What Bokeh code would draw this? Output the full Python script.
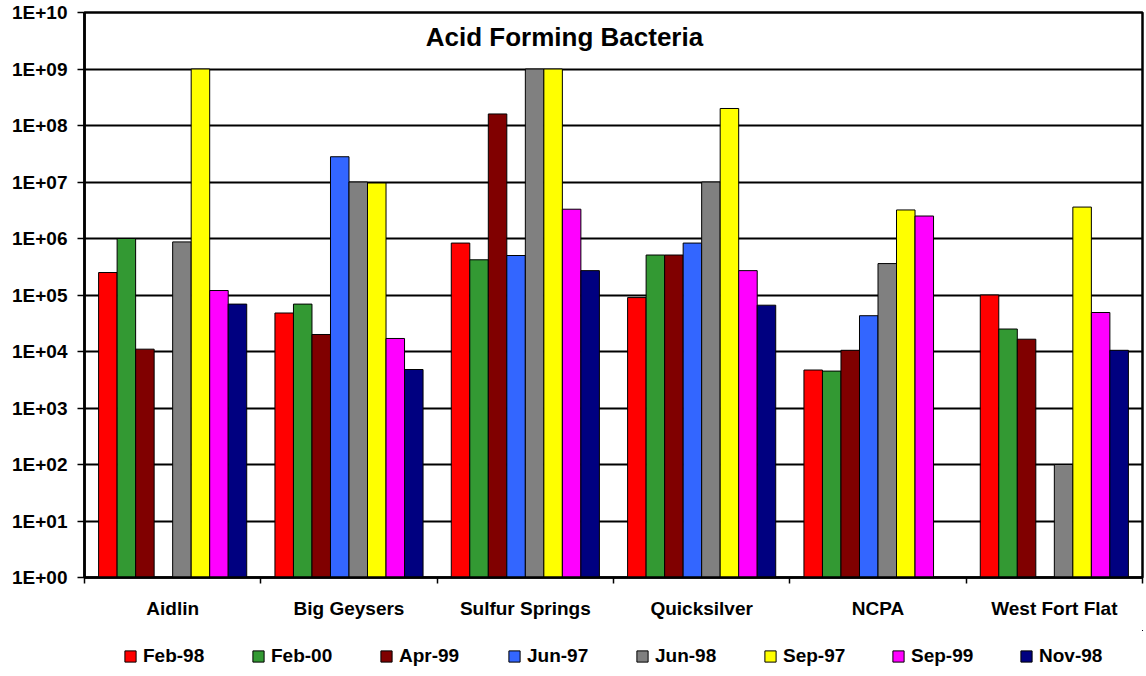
import numpy as np
from bokeh.plotting import figure
from bokeh.layouts import column
from bokeh.models import (Range1d, FixedTicker, CustomJSTickFormatter, Label)
from bokeh.embed import file_html
from bokeh.resources import INLINE

# ---- data ----
categories = ["Aidlin", "Big Geysers", "Sulfur Springs", "Quicksilver", "NCPA", "West Fort Flat"]
series_names = ["Feb-98", "Feb-00", "Apr-99", "Jun-97", "Jun-98", "Sep-97", "Sep-99", "Nov-98"]
nan = np.nan
feb_98 = [2.5e5, 4.8e4, 8.3e5, 9.0e4, 4.7e3, 1.0e5]
feb_00 = [1.0e6, 6.9e4, 4.2e5, 5.1e5, 4.5e3, 2.5e4]
apr_99 = [1.1e4, 2.0e4, 1.6e8, 5.1e5, 1.05e4, 1.65e4]
jun_97 = [nan, 2.8e7, 5.0e5, 8.3e5, 4.3e4, nan]
jun_98 = [8.7e5, 1.0e7, 1.0e9, 1.0e7, 3.6e5, 1.0e2]
sep_97 = [1.0e9, 9.6e6, 1.0e9, 2.0e8, 3.2e6, 3.6e6]
sep_99 = [1.2e5, 1.7e4, 3.3e6, 2.7e5, 2.5e6, 4.9e4]
nov_98 = [6.9e4, 4.8e3, 2.7e5, 6.6e4, nan, 1.05e4]
series_values = [feb_98, feb_00, apr_99, jun_97, jun_98, sep_97, sep_99, nov_98]
colors = ["#FF0000", "#339933", "#800000", "#3366FF", "#808080", "#FFFF00", "#FF00FF", "#000080"]
y_ticks = [10.0 ** k for k in range(11)]
title_text = "Acid Forming Bacteria"

FONT = "Liberation Sans"

p = figure(width=1146, height=630, output_backend="svg", toolbar_location=None,
           x_range=Range1d(0, len(categories)), y_range=Range1d(1, 1e10),
           y_axis_type="log", min_border_left=84, min_border_right=4,
           min_border_top=12, min_border_bottom=53)
p.background_fill_color = "white"
p.border_fill_color = "white"
p.outline_line_color = "black"
p.outline_line_width = 2.5

bar_w = 0.105
n = len(series_names)
base_x = np.arange(len(categories)) + 0.5
bar_x = [base_x + (j - (n - 1) / 2) * bar_w for j in range(n)]
for xs, vals, col in zip(bar_x, series_values, colors):
    p.vbar(x=xs, top=np.array(vals, dtype=float), bottom=1, width=bar_w,
           fill_color=col, line_color="black", line_width=1)

# grids
p.xgrid.visible = False
p.ygrid.grid_line_color = "black"
p.ygrid.grid_line_width = 2
p.ygrid.ticker = FixedTicker(ticks=y_ticks)

# y axis
ya = p.yaxis[0]
ya.ticker = FixedTicker(ticks=y_ticks, minor_ticks=[])
ya.formatter = CustomJSTickFormatter(code="""
const e = Math.round(Math.log10(tick));
return "1E+" + (e < 10 ? "0" : "") + e;
""")
ya.major_label_text_font = FONT
ya.major_label_text_font_style = "bold"
ya.major_label_text_font_size = "19px"
ya.major_label_text_color = "black"
ya.major_tick_out = 7
ya.major_tick_in = 0
ya.major_tick_line_color = "black"
ya.major_tick_line_width = 1.5
ya.minor_tick_line_color = None
ya.axis_line_color = "black"
ya.axis_line_width = 2.5
ya.major_label_standoff = 10

# x axis
xa = p.xaxis[0]
xa.ticker = FixedTicker(ticks=list(base_x), minor_ticks=list(range(len(categories) + 1)))
xa.formatter = CustomJSTickFormatter(args=dict(names=categories),
                                     code="return names[Math.floor(tick)];")
xa.major_label_text_font = FONT
xa.major_label_text_font_style = "bold"
xa.major_label_text_font_size = "19px"
xa.major_label_text_color = "black"
xa.major_tick_line_color = None
xa.major_tick_out = 0
xa.major_tick_in = 0
xa.minor_tick_out = 6
xa.minor_tick_in = 0
xa.minor_tick_line_color = "black"
xa.minor_tick_line_width = 1.5
xa.axis_line_color = "black"
xa.axis_line_width = 2.5
xa.major_label_standoff = 14

# title inside plot area
title = Label(x=2.722, y=10 ** 9.56, text=title_text, text_align="center",
              text_baseline="middle", text_font=FONT, text_font_style="bold",
              text_font_size="26px", text_color="black")
p.add_layout(title)

# legend strip (separate figure below the chart); its bars lie far outside its view
lf = figure(width=1146, height=46, output_backend="svg", toolbar_location=None,
            x_range=Range1d(-20, -10), y_range=Range1d(-20, -10),
            x_axis_location=None, y_axis_location=None,
            min_border_left=0, min_border_right=0, min_border_top=0, min_border_bottom=0)
lf.outline_line_color = None
lf.grid.visible = False
lf.background_fill_color = "white"
lf.border_fill_color = "white"
for name, xs, vals, col in zip(series_names, bar_x, series_values, colors):
    lf.vbar(x=xs, top=np.array(vals, dtype=float), bottom=1, width=bar_w,
            fill_color=col, line_color="black", line_width=1, legend_label=name)

lg = lf.legend[0]
lg.orientation = "horizontal"
lg.location = (39, 9.5)
lg.border_line_color = None
lg.background_fill_alpha = 0
lg.padding = 0
lg.margin = 0
lg.glyph_width = 14
lg.glyph_height = 14
lg.label_standoff = 6
lg.label_width = 64
lg.label_height = 14
lg.spacing = 44
lg.label_text_font = FONT
lg.label_text_font_style = "bold"
lg.label_text_font_size = "19px"
lg.label_text_color = "black"

layout = column(p, lf, spacing=0)
open("out.html", "w").write(file_html(layout, INLINE))
